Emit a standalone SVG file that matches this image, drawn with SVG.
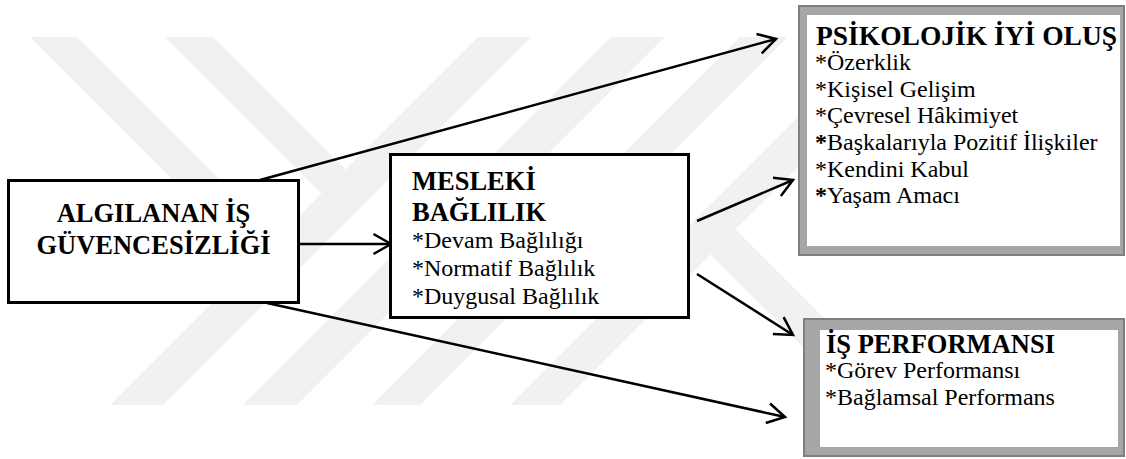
<svg xmlns="http://www.w3.org/2000/svg" width="1126" height="459" viewBox="0 0 1126 459">
  <defs>
    <style>
      .bg { fill: #ffffff; }
      .mark { fill: #f1f1f1; }
      .box { fill: #ffffff; stroke: #000000; stroke-width: 3; }
      .frame { fill: #a6a6a6; stroke: #7f7f7f; stroke-width: 2; }
      .inner { fill: #ffffff; stroke: none; }
      .edge { fill: none; stroke: #000000; stroke-width: 2.5; }
      text { font-family: "Times New Roman", "Liberation Serif", "DejaVu Serif", serif; fill: #000000; }
      .title { font-weight: bold; font-size: 26.5px; }
      .item { font-weight: normal; font-size: 24px; }
    </style>
    <marker id="open-arrow" viewBox="-20 -12 22 24" refX="0" refY="0" markerWidth="22" markerHeight="24" markerUnits="userSpaceOnUse" orient="auto" overflow="visible">
      <path d="M-17.5,-10 L0,0 L-17.5,10" fill="none" stroke="#000000" stroke-width="2.5" stroke-linejoin="miter"/>
    </marker>
  </defs>

  <rect class="bg" x="0" y="0" width="1126" height="459"/>

  <!-- faint background emblem: diagonal bands -->
  <g id="emblem">
    <polygon class="mark" points="110,405 163,405 531,37 478,37"/>
    <polygon class="mark" points="243,405 297,405 665,37 611,37"/>
    <polygon class="mark" points="372,405 420,405 788,37 740,37"/>
    <polygon class="mark" points="510,405 560,405 928,37 878,37"/>
    <polygon class="mark" points="30,37 77,37 277.5,237.5 254,261"/>
    <polygon class="mark" points="165,37 213,37 345.5,169.5 321.5,193.5"/>
    <polygon class="mark" points="710.5,254.5 735.5,229.5 911,405 861,405"/>
  </g>

  <!-- connectors -->
  <g id="connectors">
    <line class="edge" x1="260" y1="180" x2="776" y2="39" marker-end="url(#open-arrow)"/>
    <line class="edge" x1="299" y1="244" x2="391" y2="244" marker-end="url(#open-arrow)"/>
    <line class="edge" x1="697" y1="221" x2="793" y2="180" marker-end="url(#open-arrow)"/>
    <line class="edge" x1="697" y1="274" x2="793" y2="335" marker-end="url(#open-arrow)"/>
    <line class="edge" x1="267" y1="303" x2="785" y2="417" marker-end="url(#open-arrow)"/>
  </g>

  <!-- perceived job insecurity -->
  <g id="node-insecurity">
    <rect class="box" x="8.5" y="180.5" width="290" height="122"/>
    <text class="title" x="153.5" y="222" text-anchor="middle">ALGILANAN İŞ</text>
    <text class="title" x="153.5" y="254" text-anchor="middle">GÜVENCESİZLİĞİ</text>
  </g>

  <!-- occupational commitment -->
  <g id="node-commitment">
    <rect class="box" x="390.5" y="154.5" width="298" height="163"/>
    <text class="title" x="412" y="190">MESLEKİ</text>
    <text class="title" x="412" y="221">BAĞLILIK</text>
    <text class="item" x="412" y="248">*Devam Bağlılığı</text>
    <text class="item" x="412" y="276">*Normatif Bağlılık</text>
    <text class="item" x="412" y="304">*Duygusal Bağlılık</text>
  </g>

  <!-- psychological well-being -->
  <g id="node-wellbeing">
    <rect class="frame" x="799" y="6" width="325" height="249"/>
    <rect class="inner" x="807" y="15" width="313" height="231"/>
    <text class="title" x="816" y="45" style="font-size:27.5px">PSİKOLOJİK İYİ OLUŞ</text>
    <text class="item" x="815" y="70">*Özerklik</text>
    <text class="item" x="815" y="97">*Kişisel Gelişim</text>
    <text class="item" x="815" y="123">*Çevresel Hâkimiyet</text>
    <text class="item" x="815" y="150"><tspan font-weight="bold">*</tspan>Başkalarıyla Pozitif İlişkiler</text>
    <text class="item" x="815" y="177">*Kendini Kabul</text>
    <text class="item" x="815" y="203"><tspan font-weight="bold">*</tspan>Yaşam Amacı</text>
  </g>

  <!-- job performance -->
  <g id="node-performance">
    <rect class="frame" x="804" y="319" width="320" height="137"/>
    <rect class="inner" x="820" y="330" width="298" height="117"/>
    <text class="title" x="826" y="353">İŞ PERFORMANSI</text>
    <text class="item" x="825" y="378">*Görev Performansı</text>
    <text class="item" x="825" y="405">*Bağlamsal Performans</text>
  </g>
</svg>
